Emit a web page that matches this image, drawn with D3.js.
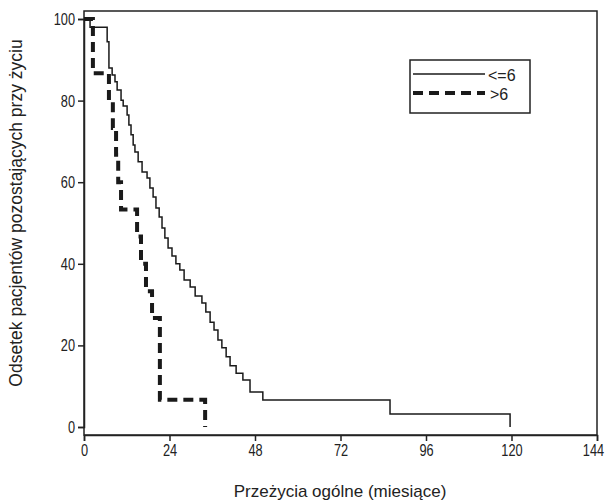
<!DOCTYPE html>
<html><head><meta charset="utf-8">
<script src="https://cdnjs.cloudflare.com/ajax/libs/d3/7.8.5/d3.min.js"></script>
<style>
body{margin:0;background:#fff;}
text{font-family:"Liberation Sans",Arial,Helvetica,sans-serif;fill:#222;}
</style></head>
<body><svg id="c" width="610" height="502"></svg>
<script>
// Group "<=6": step times (months) and survival (%) after each step
const lowTimes = [0, 1.7, 6.5, 7.0, 7.9, 8.7, 9.3, 10.4, 11.0, 12.1, 12.6, 13.2, 13.8, 14.3, 15.2, 16.3, 17.7, 18.5, 19.4, 20.2, 21.1, 21.9, 22.7, 23.6, 24.7, 25.8, 26.9, 28.1, 29.8, 31.2, 33.1, 34.2, 35.4, 36.5, 37.6, 38.7, 39.9, 41.0, 42.7, 44.6, 46.6, 50.2, 85.9, 119.6];
const lowSurv  = [100, 98, 94.4, 88, 86.3, 84.6, 82.6, 80.1, 78.7, 76.5, 74, 71.6, 69.1, 67.4, 65, 62.5, 61, 58.6, 56.4, 53.7, 51.5, 48.8, 46.3, 43.9, 41.9, 40, 38.5, 36, 34.3, 32.1, 30.4, 28.2, 25.7, 23.8, 21.3, 19.4, 17.2, 15, 13.2, 11.5, 8.6, 6.6, 3.2, 0];
// Group ">6"
const highTimes = [0, 2.5, 7.0, 8.1, 9.0, 9.6, 10.4, 14.9, 16.0, 17.4, 19.1, 21.3, 34.0];
const highSurv  = [100, 86.7, 80, 73.3, 66.7, 60, 53.3, 46.7, 40, 33.3, 26.7, 6.7, 0];
const xTicks = [0, 24, 48, 72, 96, 120, 144];
const yTicks = [0, 20, 40, 60, 80, 100];
const legendLabels = ["<=6", ">6"];
const xTitle = "Przeżycia ogólne (miesiące)";
const yTitle = "Odsetek pacjentów pozostających przy życiu";

const svg = d3.select("#c");
const L = 84, R = 597, T = 11, B = 435;
const x = d3.scaleLinear().domain([0, 144]).range([L, R]);
const y = d3.scaleLinear().domain([0, 100]).range([427, 19]);

// frame
svg.append("rect").attr("x", L).attr("y", T).attr("width", R - L).attr("height", B - T)
  .attr("fill", "none").attr("stroke", "#222").attr("stroke-width", 1.5);

const xAxis = svg.append("g").attr("transform", `translate(0,${B})`)
  .call(d3.axisBottom(x).tickValues(xTicks).tickSize(6).tickPadding(3).tickFormat(d3.format("d")));
const yAxis = svg.append("g").attr("transform", `translate(${L},0)`)
  .call(d3.axisLeft(y).tickValues(yTicks).tickSize(6).tickPadding(3).tickFormat(d3.format("d")));
[xAxis, yAxis].forEach(g => {
  g.select(".domain").attr("stroke", "#222").attr("stroke-width", 1.5);
  g.selectAll(".tick line").attr("stroke", "#222").attr("stroke-width", 1.5);
  g.selectAll(".tick text").attr("font-size", 17).attr("fill", "#222")
    .attr("font-family", "Liberation Sans, Arial, sans-serif")
    .attr("textLength", function(){ return this.textContent.length * 7.1; })
    .attr("lengthAdjust", "spacingAndGlyphs");
});
// keep the last x label inside the page
xAxis.selectAll(".tick text").filter(d => d === 144).attr("dx", -4);

const line = d3.line().x(d => x(d[0])).y(d => y(d[1])).curve(d3.curveStepAfter);
const lowData = lowTimes.map((t, i) => [t, lowSurv[i]]);
const highData = highTimes.map((t, i) => [t, highSurv[i]]);

svg.append("path").datum(lowData).attr("d", line)
  .attr("fill", "none").attr("stroke", "#1a1a1a").attr("stroke-width", 1.5);
svg.append("path").datum(highData).attr("d", line)
  .attr("fill", "none").attr("stroke", "#1a1a1a").attr("stroke-width", 4)
  .attr("stroke-dasharray", "10,6");

// legend
const lg = svg.append("g");
lg.append("rect").attr("x", 410).attr("y", 60).attr("width", 120).attr("height", 53)
  .attr("fill", "#fff").attr("stroke", "#222").attr("stroke-width", 1.5);
lg.append("line").attr("x1", 413).attr("x2", 485).attr("y1", 74).attr("y2", 74)
  .attr("stroke", "#1a1a1a").attr("stroke-width", 1.5);
lg.append("line").attr("x1", 413).attr("x2", 485).attr("y1", 93).attr("y2", 93)
  .attr("stroke", "#1a1a1a").attr("stroke-width", 4).attr("stroke-dasharray", "10,6");
lg.append("text").attr("x", 488).attr("y", 81).attr("font-size", 16).text(legendLabels[0]);
lg.append("text").attr("x", 490).attr("y", 100).attr("font-size", 16).text(legendLabels[1]);

svg.append("text").attr("x", 340).attr("y", 497).attr("text-anchor", "middle")
  .attr("font-size", 17).text(xTitle);
svg.append("text").attr("transform", "translate(22,213) rotate(-90)").attr("text-anchor", "middle")
  .attr("font-size", 17.5).text(yTitle);
</script></body></html>
